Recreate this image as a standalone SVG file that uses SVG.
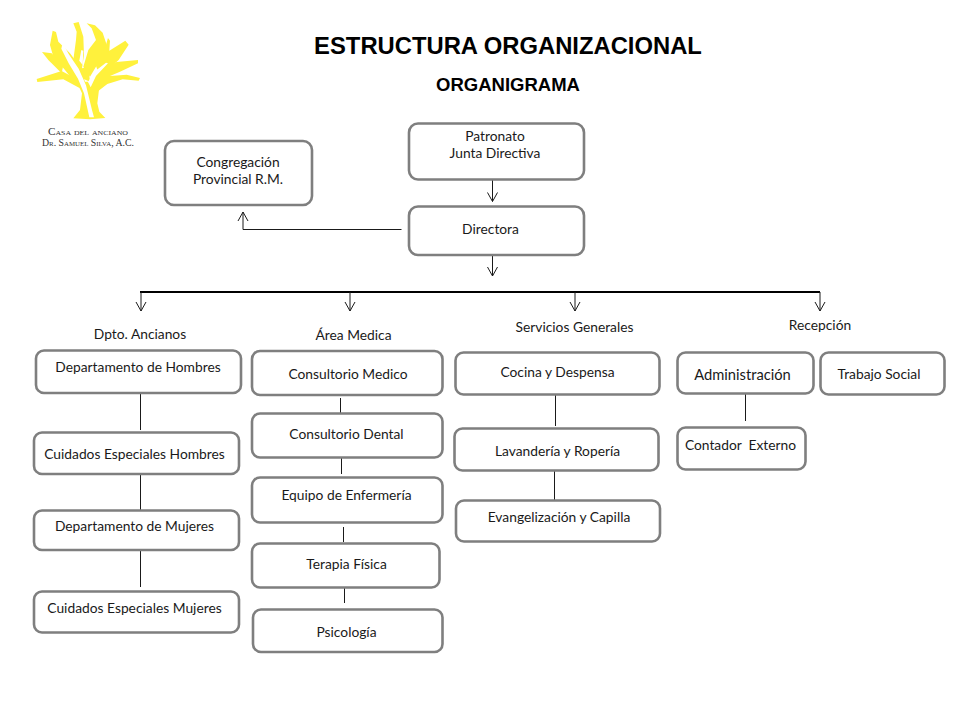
<svg xmlns="http://www.w3.org/2000/svg" width="960" height="720" viewBox="0 0 960 720">
<style>
.b{fill:#fff;stroke:#7f7f7f;stroke-width:2.6}
.t{font-family:"Lato","Carlito","Liberation Sans",sans-serif;font-size:13.8px;fill:#1a1a1a;text-anchor:middle}
.h{font-family:"Liberation Sans",Arial,sans-serif;font-weight:bold;fill:#000;text-anchor:middle}
.l{font-family:"Liberation Serif",serif;font-size:10px;fill:#333;text-anchor:middle;font-variant:small-caps}
.c{fill:none;stroke:#1a1a1a;stroke-width:1}
.y{fill:#fff13c}
</style>
<defs>
<marker id="a" markerUnits="userSpaceOnUse" markerWidth="12" markerHeight="14" refX="11" refY="6" orient="auto" viewBox="0 0 12 12"><path d="M2 1 L11 6 L2 11" fill="none" stroke="#1a1a1a" stroke-width="1"/></marker>
</defs>
<rect width="960" height="720" fill="#fff"/>
<g id="logo">
<g transform="translate(20,10) scale(.3333)">
<path class="y" d="M160 325 L180 300 L186 250 L170 215 L240 215 L232 280 L238 305 L256 324 L210 328Z"/>
<path class="y" d="M98 62 L108 66 L115 95 L150 130 L180 170 L200 230 L170 225 L135 180 L100 140 L90 105Z"/>
<path class="y" d="M66 126 L95 130 L130 165 L125 190 L85 150Z"/>
<path class="y" d="M50 207 L125 183 L175 210 L180 235 L130 208 L52 216Z"/>
<path class="y" d="M160 40 L176 36 L190 80 L192 135 L186 175 L205 170 L210 215 L175 200 L160 150 L168 90 L170 65Z"/>
<path class="y" d="M200 40 L225 46 L248 68 L262 110 L240 150 L210 200 L190 170 L205 120 L228 90 L215 55Z"/>
<path class="y" d="M264 84 L270 92 L268 122 L316 92 L326 104 L296 150 L240 200 L225 160 L255 115Z"/>
<path class="y" d="M354 150 L354 160 L300 185 L270 198 L320 194 L360 204 L356 212 L308 208 L262 222 L232 245 L205 220 L240 180 L290 156Z"/>
<path fill="#fff" d="M128 98 L146 132 L176 176 L198 226 L216 300 L222 322 L208 322 L192 250 L174 206 L146 160 L124 116 Z"/>
<path fill="#fff" d="M204 216 L222 186 L258 158 L264 160 L228 198 L212 232 Z"/>
<path fill="#fff" d="M178 152 L184 120 L190 122 L188 165 Z"/>
</g>
<text class="l" x="88" y="135" textLength="80" lengthAdjust="spacingAndGlyphs">Casa del anciano</text>
<text class="l" x="88" y="145.500" textLength="92" lengthAdjust="spacingAndGlyphs">Dr. Samuel Silva, A.C.</text>
</g>
<text class="h" x="508" y="54" font-size="23.800">ESTRUCTURA ORGANIZACIONAL</text>
<text class="h" x="508" y="91" font-size="18.500">ORGANIGRAMA</text>
<g id="connectors">
<path class="c" d="M492.500 179V201.500" marker-end="url(#a)"/>
<path class="c" d="M492.500 255V276" marker-end="url(#a)"/>
<path class="c" d="M401.500 229.500H243V212" marker-end="url(#a)"/>
<path d="M140 292H820" fill="none" stroke="#000" stroke-width="2"/>
<path class="c" d="M141 292V311" marker-end="url(#a)"/>
<path class="c" d="M350 292V311" marker-end="url(#a)"/>
<path class="c" d="M575 292V311" marker-end="url(#a)"/>
<path class="c" d="M820 292V311" marker-end="url(#a)"/>
<path class="c" d="M140.500 393V430M140.500 474V510M140.500 550V587"/>
<path class="c" d="M340.500 398V414M341.500 458V474M343.500 527V542M344.500 588V603"/>
<path class="c" d="M555.500 395V426M554.500 471V500M745.500 394V421"/>
</g>
<text class="t" x="140" y="339">Dpto. Ancianos</text>
<text class="t" x="353.500" y="340">Área Medica</text>
<text class="t" x="574.500" y="332">Servicios Generales</text>
<text class="t" x="820" y="330">Recepción</text>
<g id="n-congregacion"><rect class="b" x="165" y="141" width="147" height="64" rx="9"/><text class="t" x="238" y="167">Congregación</text><text class="t" x="238" y="184">Provincial R.M.</text></g>
<g id="n-patronato"><rect class="b" x="409" y="123.500" width="175" height="56" rx="9"/><text class="t" x="495" y="141">Patronato</text><text class="t" x="495" y="158">Junta Directiva</text></g>
<g id="n-directora"><rect class="b" x="409" y="206.500" width="175" height="48.500" rx="9"/><text class="t" x="490.500" y="234">Directora</text></g>
<g id="n-dep-hombres"><rect class="b" x="36" y="350.500" width="205" height="42.500" rx="8"/><text class="t" x="138" y="372">Departamento de Hombres</text></g>
<g id="n-cuid-hombres"><rect class="b" x="34" y="432.500" width="205" height="41.500" rx="8"/><text class="t" x="134.500" y="459">Cuidados Especiales Hombres</text></g>
<g id="n-dep-mujeres"><rect class="b" x="34" y="510.500" width="205" height="39.500" rx="8"/><text class="t" x="134.500" y="531">Departamento de Mujeres</text></g>
<g id="n-cuid-mujeres"><rect class="b" x="34" y="591.500" width="205" height="41" rx="8"/><text class="t" x="134.500" y="613">Cuidados Especiales Mujeres</text></g>
<g id="n-medico"><rect class="b" x="252" y="351" width="190.500" height="44" rx="8"/><text class="t" x="348" y="379">Consultorio Medico</text></g>
<g id="n-dental"><rect class="b" x="252" y="413.500" width="190.500" height="44" rx="8"/><text class="t" x="346.500" y="439">Consultorio Dental</text></g>
<g id="n-enfermeria"><rect class="b" x="252" y="477.500" width="190.500" height="45" rx="8"/><text class="t" x="346.500" y="500">Equipo de Enfermería</text></g>
<g id="n-terapia"><rect class="b" x="252" y="543.500" width="187.500" height="44" rx="8"/><text class="t" x="346.500" y="569">Terapia Física</text></g>
<g id="n-psicologia"><rect class="b" x="253" y="609.500" width="189.500" height="42.500" rx="8"/><text class="t" x="346.500" y="637">Psicología</text></g>
<g id="n-cocina"><rect class="b" x="455.500" y="352.500" width="204" height="42" rx="8"/><text class="t" x="557.500" y="377">Cocina y Despensa</text></g>
<g id="n-lavanderia"><rect class="b" x="454.500" y="428.500" width="204" height="42" rx="8"/><text class="t" x="557.500" y="456">Lavandería y Ropería</text></g>
<g id="n-evangelizacion"><rect class="b" x="456" y="500.500" width="204" height="41" rx="8"/><text class="t" x="559" y="522">Evangelización y Capilla</text></g>
<g id="n-administracion"><rect class="b" x="677.500" y="352.500" width="136" height="41" rx="8"/><text class="t" x="742.500" y="380" style="font-size:14.700px">Administración</text></g>
<g id="n-trabajo"><rect class="b" x="820.500" y="352.500" width="124" height="42" rx="8"/><text class="t" x="879" y="379">Trabajo Social</text></g>
<g id="n-contador"><rect class="b" x="677.500" y="427.500" width="128" height="42" rx="8"/><text class="t" x="740.500" y="450" xml:space="preserve">Contador  Externo</text></g>
</svg>
